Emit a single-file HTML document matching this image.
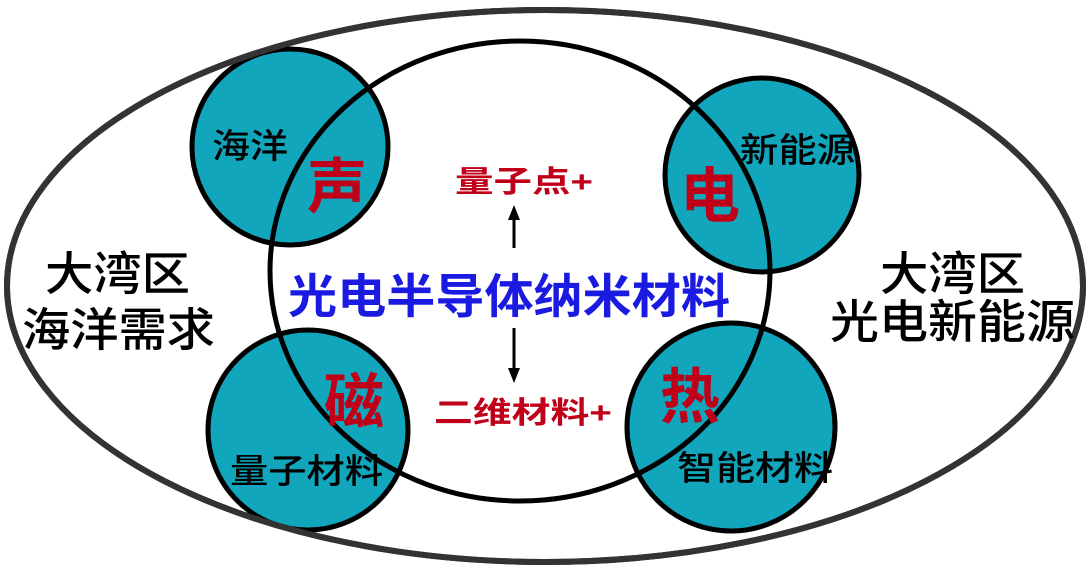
<!DOCTYPE html>
<html><head><meta charset="utf-8"><style>
html,body{margin:0;padding:0;background:#fff;}
svg{display:block}
text{font-family:"Liberation Sans","Noto Sans CJK SC",sans-serif;}
</style></head><body>
<svg width="1088" height="576" viewBox="0 0 1088 576" xmlns="http://www.w3.org/2000/svg">
<ellipse cx="545" cy="286" rx="538" ry="276" fill="#fff" stroke="#333" stroke-width="6"/>
<g fill="#12a6bd" stroke="#000" stroke-width="5">
<circle cx="290" cy="147" r="98"/>
<circle cx="762" cy="175" r="97"/>
<circle cx="308" cy="430" r="100"/>
<circle cx="731" cy="427" r="104"/>
</g>
<ellipse cx="520" cy="271" rx="250" ry="230" fill="none" stroke="#000" stroke-width="5"/>
<ellipse cx="545" cy="286" rx="538" ry="276" fill="none" stroke="#333" stroke-width="6"/>
<g font-size="34" fill="#000" font-weight="500">
<text x="212" y="158" textLength="76" lengthAdjust="spacingAndGlyphs">海洋</text>
<text x="740" y="162" textLength="115" lengthAdjust="spacingAndGlyphs">新能源</text>
<text x="230" y="483" textLength="153" lengthAdjust="spacingAndGlyphs">量子材料</text>
<text x="677" y="480" textLength="156" lengthAdjust="spacingAndGlyphs">智能材料</text>
</g>
<g font-size="60" fill="#c00018" font-weight="bold">
<text x="307" y="208">声</text>
<text x="680" y="217">电</text>
<text x="324" y="423">磁</text>
<text x="660" y="418">热</text>
</g>
<g font-size="30" fill="#c00018" font-weight="bold">
<text x="455" y="192" textLength="138" lengthAdjust="spacingAndGlyphs">量子点+</text>
<text x="434" y="423" textLength="178" lengthAdjust="spacingAndGlyphs">二维材料+</text>
</g>
<text x="288" y="313" font-size="47" fill="#1a1ae0" font-weight="bold" textLength="442" lengthAdjust="spacingAndGlyphs">光电半导体纳米材料</text>
<g font-size="46" fill="#000" font-weight="500">
<text x="45" y="290" textLength="145" lengthAdjust="spacingAndGlyphs">大湾区</text>
<text x="22" y="346" textLength="193" lengthAdjust="spacingAndGlyphs">海洋需求</text>
<text x="880" y="290" textLength="145" lengthAdjust="spacingAndGlyphs">大湾区</text>
<text x="830" y="338" textLength="245" lengthAdjust="spacingAndGlyphs">光电新能源</text>
</g>
<g stroke="#000" stroke-width="3">
<line x1="514" y1="248" x2="514" y2="218"/>
<line x1="514" y1="328" x2="514" y2="370"/>
</g>
<polygon points="514,205 508,220 520,220" fill="#000"/>
<polygon points="514,383 508,368 520,368" fill="#000"/>
</svg>
</body></html>
